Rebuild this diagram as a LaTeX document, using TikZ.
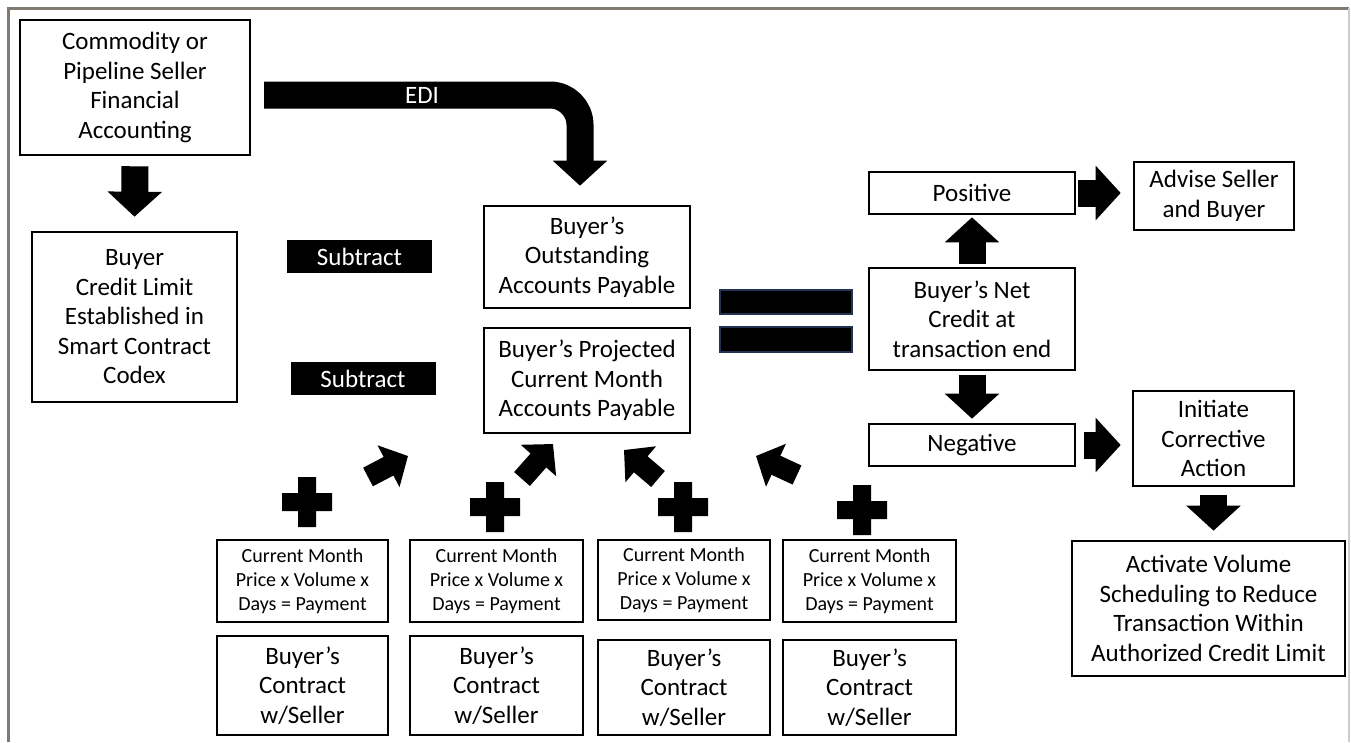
\documentclass[tikz,border=0pt]{standalone}
\usepackage{fontspec}
\setmainfont{Carlito}
\usetikzlibrary{arrows.meta}
\newcommand{\bigtext}{\fontsize{25}{29.5}\selectfont}
\newcommand{\smalltext}{\fontsize{20}{24}\selectfont}
\begin{document}
\begin{tikzpicture}[x=1pt, y=-1pt,
    box/.style = {draw, line width=2.6, align=center, inner sep=1, font=\bigtext},
    calcbox/.style = {box, font=\smalltext},
    darkbox/.style = {fill=black, text=white, inner sep=0, font=\fontsize{25}{27}\selectfont},
    fat/.style = {line width=27, -{Triangle[length=25, width=53]}},
    tilt/.style = {line width=21, -{Triangle[length=22, width=46]}},
    plus/.pic = {\fill (-25,-9) rectangle (25,9) (-9,-25) rectangle (9,25);}]
    \useasboundingbox (0, 0) rectangle (1351, 742);
    \fill [white] (0, 0) rectangle (1351, 742);
    \draw [line width=3, color={rgb,255:red,128;green,122;blue,112}] (8, 742) -- (8, 8) -- (1349, 8);
    \draw [line width=2, color={rgb,255:red,205;green,205;blue,205}] (1349, 8) -- (1349, 742);

    % left column
    \node [box, minimum width=230, minimum height=135] (seller) at (135, 87.5)
      {Commodity or\\Pipeline Seller\\Financial\\Accounting};
    \node [box, minimum width=205, minimum height=170] (limit) at (134.5, 317)
      {Buyer\\Credit Limit\\Established in\\Smart Contract\\Codex};
    \draw [fat] ([yshift=-10]seller.south) -- ([yshift=14]limit.north);

    % subtract labels
    \node [darkbox, minimum width=145, minimum height=33] (sub1) at (359.5, 256.5) {Subtract};
    \node [darkbox, minimum width=145, minimum height=33] (sub2) at (363, 378.5) {Subtract};

    % payables
    \node [box, minimum width=206, minimum height=102] (outst) at (587, 257)
      {Buyer's\\Outstanding\\Accounts Payable};
    \node [box, minimum width=206, minimum height=105] (proj) at (587, 380.5)
      {Buyer's Projected\\Current Month\\Accounts Payable};
    \coordinate (edi) at (264, 95);
    \draw [fat, rounded corners=30] (edi) -| ([xshift=-7, yshift=19]outst.north)
      node [pos=0.25, text=white, font=\fontsize{25}{27}\selectfont] {EDI};

    % equals sign
    \draw [fill=black, draw={rgb,255:red,35;green,50;blue,80}, line width=1.5] (720, 290) rectangle (852, 314);
    \draw [fill=black, draw={rgb,255:red,35;green,50;blue,80}, line width=1.5] (720, 327) rectangle (852, 352);

    % result
    \node [box, minimum width=206, minimum height=102] (net) at (972, 319)
      {Buyer's Net\\Credit at\\transaction end};
    \node [box, minimum width=206, minimum height=42] (pos) at (972, 193) {Positive};
    \node [box, minimum width=206, minimum height=42] (neg) at (972, 445) {Negative};
    \node [box, minimum width=160, minimum height=68] (advise) at (1214, 196)
      {Advise Seller\\and Buyer};
    \node [box, minimum width=161, minimum height=95] (init) at (1213.5, 438.5)
      {Initiate\\Corrective\\Action};
    \node [box, minimum width=273, minimum height=135] (activate) at (1208.5, 608.5)
      {Activate Volume\\Scheduling to Reduce\\Transaction Within\\Authorized Credit Limit};
    \draw [fat] ([yshift=3]net.north) -- ([yshift=-2]pos.south);
    \draw [fat] ([yshift=-4]net.south) -- ([yshift=4]neg.north);
    \draw [fat] ([xshift=2]pos.east) -- ([xshift=-12]pos.east -| advise.west);
    \draw [fat] ([xshift=8]neg.east) -- ([xshift=-11]neg.east -| init.west);
    \draw [fat] ([yshift=-8]init.south) -- ([yshift=9]init.south |- activate.north);

    % contracts
    \node [calcbox, minimum width=171, minimum height=82] (calcA) at (302.5, 581)
      {Current Month\\Price x Volume x\\Days = Payment};
    \node [calcbox, minimum width=173, minimum height=82] (calcB) at (496.5, 581)
      {Current Month\\Price x Volume x\\Days = Payment};
    \node [calcbox, minimum width=172, minimum height=80] (calcC) at (684, 580)
      {Current Month\\Price x Volume x\\Days = Payment};
    \node [calcbox, minimum width=173, minimum height=82] (calcD) at (869.5, 581)
      {Current Month\\Price x Volume x\\Days = Payment};
    \node [box, minimum width=171, minimum height=99] (contA) at (302.5, 685.5)
      {Buyer's\\Contract\\w/Seller};
    \node [box, minimum width=173, minimum height=99] (contB) at (496.5, 685.5)
      {Buyer's\\Contract\\w/Seller};
    \node [box, minimum width=172, minimum height=95] (contC) at (684, 687.5)
      {Buyer's\\Contract\\w/Seller};
    \node [box, minimum width=173, minimum height=95] (contD) at (869.5, 687.5)
      {Buyer's\\Contract\\w/Seller};

    \pic at (307, 502) {plus};
    \pic at (495, 507) {plus};
    \pic at (683, 507) {plus};
    \pic at (862, 510) {plus};
    \draw [tilt] (368, 477) -- (408, 456);
    \draw [tilt] (522, 479) -- (553, 444);
    \draw [tilt] (658, 479) -- (624, 450);
    \draw [tilt] (797, 475) -- (756, 456);
  \end{tikzpicture}
\end{document}
